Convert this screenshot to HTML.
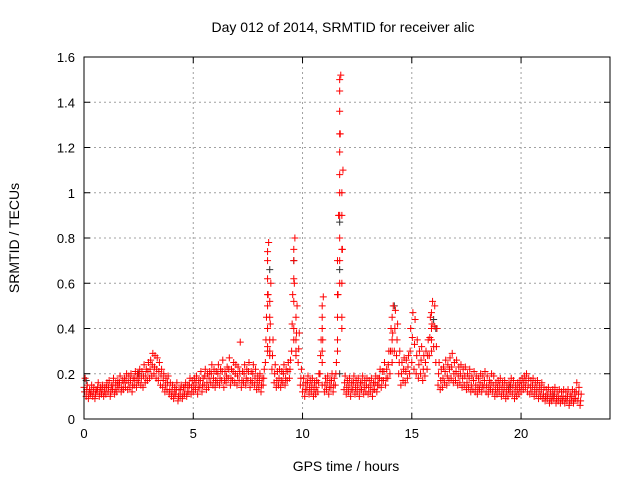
<!DOCTYPE html>
<html><head><meta charset="utf-8"><style>
html,body{margin:0;padding:0;background:#fff;}
svg{display:block;font-family:"Liberation Sans",sans-serif;}
</style></head><body>
<svg id="chart" width="640" height="480" viewBox="0 0 640 480">
<text x="343" y="32" text-anchor="middle" font-size="14">Day 012 of 2014, SRMTID for receiver alic</text>
<text x="346" y="471" text-anchor="middle" font-size="14">GPS time / hours</text>
<text transform="translate(19,238) rotate(-90)" text-anchor="middle" font-size="14">SRMTID / TECUs</text>
<g id="grid"></g>
<g id="ticks"></g>
<g id="marks"></g>
<rect x="84" y="57" width="526" height="362" fill="none" stroke="#000" stroke-width="1"/>
</svg>
<script>
const xTicks=[0,5,10,15,20];
const yTicks=[0,0.2,0.4,0.6,0.8,1,1.2,1.4,1.6];
const yTickLabels=["0","0.2","0.4","0.6","0.8","1","1.2","1.4","1.6"];
const gridStart=0, gridStep=0.1;
const lowVals=[0.14,0.10,0.09,0.11,0.10,0.09,0.12,0.10,0.11,0.10,
0.11,0.12,0.10,0.13,0.11,0.12,0.14,0.12,0.13,0.14,
0.13,0.14,0.12,0.15,0.14,0.16,0.15,0.14,0.16,0.17,
0.18,0.19,0.20,0.18,0.17,0.15,0.14,0.12,0.13,0.11,
0.10,0.09,0.11,0.08,0.10,0.09,0.11,0.10,0.12,0.11,
0.12,0.13,0.11,0.14,0.12,0.15,0.13,0.14,0.16,0.15,
0.14,0.16,0.15,0.17,0.14,0.16,0.18,0.15,0.17,0.16,
0.15,0.17,0.14,0.16,0.15,0.17,0.14,0.16,0.15,0.13,
0.14,0.12,0.15,0.25,0.30,0.28,0.22,0.16,0.14,0.15,
0.14,0.16,0.15,0.17,0.18,0.30,0.35,0.28,0.25,0.15,
0.12,0.10,0.13,0.11,0.12,0.10,0.11,0.12,0.20,0.15,
0.12,0.13,0.11,0.14,0.12,0.15,0.30,0.60,0.40,0.13,
0.11,0.12,0.10,0.13,0.11,0.12,0.10,0.13,0.11,0.12,
0.11,0.12,0.10,0.13,0.12,0.15,0.14,0.17,0.15,0.18,
0.20,0.25,0.30,0.28,0.20,0.15,0.17,0.16,0.18,0.20,
0.25,0.22,0.20,0.18,0.20,0.17,0.19,0.22,0.28,0.30,
0.32,0.25,0.15,0.13,0.14,0.16,0.15,0.17,0.18,0.16,
0.17,0.15,0.16,0.14,0.15,0.13,0.14,0.12,0.13,0.12,
0.11,0.13,0.12,0.14,0.12,0.11,0.13,0.12,0.10,0.11,
0.12,0.10,0.11,0.09,0.10,0.12,0.11,0.09,0.10,0.11,
0.12,0.13,0.14,0.12,0.11,0.12,0.10,0.11,0.09,0.10,
0.09,0.08,0.09,0.07,0.08,0.09,0.07,0.08,0.07,0.08,
0.07,0.08,0.06,0.08,0.07,0.09,0.08,0.06];
const midVals=[0.12,0.13,0.11,0.12,0.12,0.11,0.14,0.12,0.13,0.12,
0.14,0.14,0.12,0.15,0.13,0.15,0.16,0.14,0.16,0.17,
0.16,0.17,0.15,0.18,0.17,0.19,0.18,0.19,0.19,0.21,
0.22,0.24,0.23,0.22,0.21,0.19,0.17,0.15,0.16,0.13,
0.12,0.11,0.13,0.10,0.13,0.11,0.14,0.12,0.15,0.14,
0.15,0.16,0.14,0.17,0.15,0.19,0.16,0.18,0.20,0.18,
0.17,0.20,0.18,0.21,0.17,0.19,0.22,0.18,0.21,0.20,
0.19,0.21,0.17,0.20,0.18,0.21,0.17,0.20,0.18,0.16,
0.17,0.15,0.18,0.35,0.55,0.42,0.28,0.20,0.17,0.18,
0.17,0.20,0.18,0.21,0.22,0.42,0.60,0.38,0.31,0.18,
0.15,0.13,0.16,0.14,0.15,0.13,0.14,0.16,0.28,0.35,
0.15,0.16,0.14,0.17,0.15,0.20,0.55,1.26,0.75,0.16,
0.14,0.15,0.13,0.16,0.14,0.15,0.13,0.16,0.14,0.15,
0.14,0.15,0.13,0.16,0.15,0.18,0.17,0.21,0.18,0.24,
0.30,0.38,0.40,0.35,0.25,0.20,0.22,0.21,0.23,0.30,
0.36,0.33,0.28,0.24,0.26,0.22,0.25,0.28,0.36,0.42,
0.41,0.32,0.20,0.17,0.18,0.21,0.19,0.22,0.23,0.20,
0.21,0.19,0.20,0.18,0.19,0.16,0.18,0.15,0.17,0.15,
0.14,0.16,0.15,0.17,0.15,0.14,0.16,0.15,0.13,0.14,
0.15,0.13,0.14,0.12,0.13,0.15,0.14,0.12,0.13,0.14,
0.15,0.16,0.17,0.15,0.14,0.15,0.13,0.14,0.12,0.13,
0.11,0.10,0.11,0.09,0.10,0.11,0.09,0.10,0.09,0.10,
0.09,0.10,0.08,0.10,0.09,0.12,0.11,0.08];
const highVals=[0.18,0.15,0.13,0.15,0.14,0.13,0.16,0.14,0.15,0.14,
0.16,0.17,0.15,0.18,0.16,0.17,0.19,0.17,0.18,0.20,
0.19,0.20,0.18,0.21,0.20,0.22,0.21,0.24,0.22,0.25,
0.26,0.29,0.28,0.27,0.25,0.22,0.20,0.18,0.19,0.16,
0.15,0.14,0.16,0.13,0.15,0.14,0.16,0.15,0.18,0.17,
0.18,0.19,0.17,0.21,0.18,0.22,0.20,0.21,0.24,0.22,
0.21,0.24,0.22,0.26,0.21,0.23,0.27,0.22,0.25,0.24,
0.23,0.34,0.21,0.24,0.22,0.25,0.21,0.24,0.22,0.19,
0.20,0.18,0.22,0.45,0.78,0.60,0.35,0.24,0.21,0.22,
0.21,0.24,0.22,0.25,0.26,0.55,0.80,0.50,0.38,0.22,
0.18,0.16,0.19,0.17,0.18,0.16,0.17,0.20,0.35,0.54,
0.18,0.19,0.17,0.20,0.18,0.25,0.90,1.52,1.10,0.19,
0.17,0.18,0.16,0.19,0.17,0.18,0.16,0.19,0.17,0.18,
0.17,0.18,0.16,0.19,0.18,0.22,0.21,0.25,0.22,0.30,
0.40,0.50,0.48,0.42,0.30,0.25,0.27,0.26,0.28,0.40,
0.47,0.44,0.35,0.30,0.32,0.28,0.30,0.35,0.45,0.52,
0.50,0.40,0.25,0.22,0.23,0.26,0.24,0.27,0.29,0.25,
0.26,0.23,0.24,0.22,0.23,0.20,0.22,0.19,0.21,0.19,
0.18,0.20,0.19,0.21,0.19,0.17,0.20,0.19,0.16,0.17,
0.18,0.16,0.17,0.15,0.16,0.18,0.17,0.15,0.16,0.17,
0.18,0.19,0.20,0.18,0.17,0.18,0.16,0.17,0.15,0.16,
0.14,0.13,0.14,0.12,0.13,0.14,0.12,0.13,0.12,0.13,
0.12,0.13,0.11,0.13,0.12,0.16,0.14,0.11];
const spikeTimes=[8.4,8.4,8.4,8.4,8.4,8.4,8.4,8.5,8.5,8.5,8.5,9.6,9.6,9.6,9.6,9.6,9.7,9.7,9.7,10.9,10.9,10.9,10.9,10.9,11.6,11.6,11.6,11.6,11.7,11.7,11.7,11.7,11.7,11.7,11.7,11.7,11.7,11.7,11.8,11.8,11.8,11.8,11.8,14.1,14.1,14.1,15.9,15.9,15.9];
const spikeVals=[0.32,0.40,0.50,0.55,0.62,0.70,0.74,0.30,0.35,0.45,0.52,0.40,0.52,0.62,0.70,0.75,0.30,0.35,0.45,0.25,0.30,0.40,0.45,0.50,0.35,0.45,0.55,0.70,0.70,0.80,0.90,1.00,1.08,1.18,1.26,1.36,1.45,1.50,0.45,0.60,0.75,0.90,1.00,0.30,0.35,0.45,0.35,0.40,0.47];
const blackTimes=[0.1,2.5,8.5,9.6,11.7,11.7,11.7,14.2,16.0,16.1,19.5,21.5];
const blackVals=[0.17,0.20,0.66,0.70,0.66,0.87,0.20,0.50,0.44,0.40,0.14,0.10];

const X0=84,X1=610,Y0=419,Y1=57,XMAX=24.07,YMAX=1.6;
function xs(v){return X0+(X1-X0)*v/XMAX;}
function ys(v){return Y0-(Y0-Y1)*v/YMAX;}
const NS="http://www.w3.org/2000/svg";
function mk(tag,attrs,parent){const e=document.createElementNS(NS,tag);for(const k in attrs)e.setAttribute(k,attrs[k]);parent.appendChild(e);return e;}
const grid=document.getElementById('grid'),ticks=document.getElementById('ticks'),marks=document.getElementById('marks');
xTicks.forEach(t=>{const x=xs(t);
 if(t>0){const g=mk('line',{x1:x,x2:x,y1:Y1,y2:Y0,stroke:'#a0a0a0','stroke-dasharray':'2,3'},grid);
 
 }
 mk('line',{x1:x,x2:x,y1:Y0,y2:Y0-6,stroke:'#000'},ticks);
 mk('line',{x1:x,x2:x,y1:Y1,y2:Y1+6,stroke:'#000'},ticks);
 const l=mk('text',{x:x,y:Y0+19,'text-anchor':'middle','font-size':'13'},ticks);l.textContent=t;
 
 
});
yTicks.forEach((t,i)=>{const y=ys(t);
 if(t>0&&t<YMAX){const g=mk('line',{x1:X0,x2:X1,y1:y,y2:y,stroke:'#a0a0a0','stroke-dasharray':'2,3'},grid);
 
 }
 mk('line',{x1:X0,x2:X0+6,y1:y,y2:y,stroke:'#000'},ticks);
 mk('line',{x1:X1,x2:X1-6,y1:y,y2:y,stroke:'#000'},ticks);
 const l=mk('text',{x:X0-9,y:y+5,'text-anchor':'end','font-size':'13'},ticks);l.textContent=yTickLabels[i];
 
 
});
function cross(t,v,col,name){const x=xs(t),y=ys(v);
 const p=mk('path',{d:`M${x-3.5},${y}H${x+3.5}M${x},${y-3.5}V${y+3.5}`,stroke:col,'stroke-width':1,fill:'none'},marks);
 
 }
blackTimes.forEach((t,i)=>cross(t,blackVals[i],'#333','black-point'));
lowVals.forEach((v,i)=>cross(gridStart+i*gridStep,v,'#ff0000','red-point'));
midVals.forEach((v,i)=>cross(gridStart+i*gridStep+0.025,v,'#ff0000','red-point'));
highVals.forEach((v,i)=>cross(gridStart+i*gridStep+0.05,v,'#ff0000','red-point'));
spikeTimes.forEach((t,i)=>cross(t,spikeVals[i],'#ff0000','red-spike-point'));
</script>
</body></html>
